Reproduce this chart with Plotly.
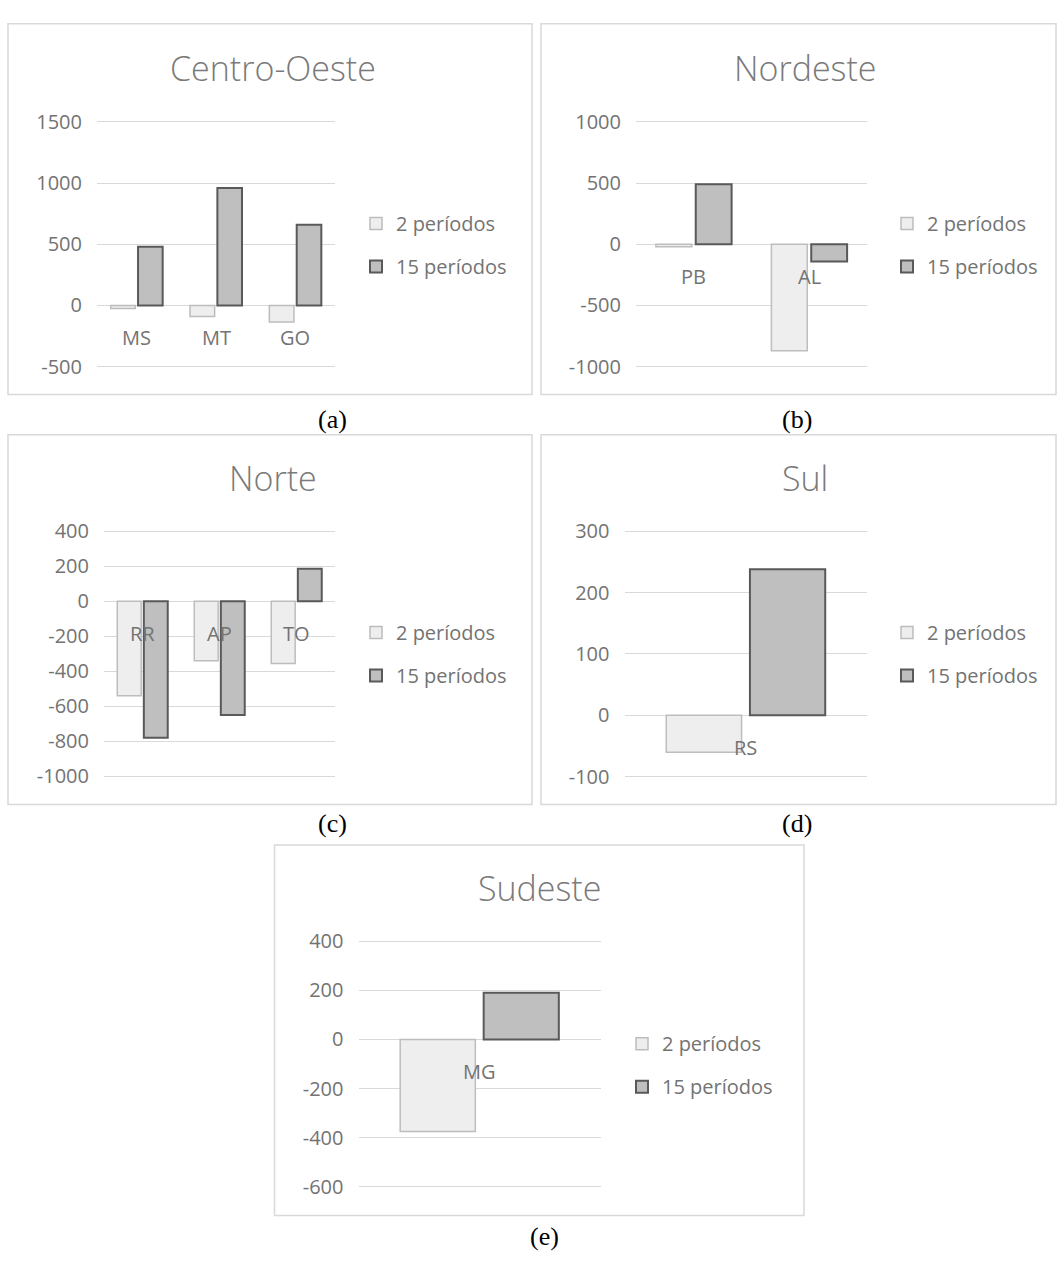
import plotly.graph_objects as go

# ---- data -------------------------------------------------------------
series_names = ["2 períodos", "15 períodos"]

cats_co = ["MS", "MT", "GO"]
p2_co = [-25, -90, -135]
p15_co = [480, 960, 660]

cats_ne = ["PB", "AL"]
p2_ne = [-20, -870]
p15_ne = [490, -140]

cats_n = ["RR", "AP", "TO"]
p2_n = [-540, -340, -355]
p15_n = [-780, -650, 185]

cats_s = ["RS"]
p2_s = [-60]
p15_s = [238]

cats_se = ["MG"]
p2_se = [-375]
p15_se = [190]

titles = ["Centro-Oeste", "Nordeste", "Norte", "Sul", "Sudeste"]
captions = ["(a)", "(b)", "(c)", "(d)", "(e)"]

ticks_co = [-500, 0, 500, 1000, 1500]
ticks_ne = [-1000, -500, 0, 500, 1000]
ticks_n = [-1000, -800, -600, -400, -200, 0, 200, 400]
ticks_s = [-100, 0, 100, 200, 300]
ticks_se = [-600, -400, -200, 0, 200, 400]

data = [
    (cats_co, p2_co, p15_co, ticks_co),
    (cats_ne, p2_ne, p15_ne, ticks_ne),
    (cats_n, p2_n, p15_n, ticks_n),
    (cats_s, p2_s, p15_s, ticks_s),
    (cats_se, p2_se, p15_se, ticks_se),
]

# ---- page geometry (pixels) -------------------------------------------
W, H = 1059, 1261


def fx(px):
    return px / W


def fy(py):
    return 1 - py / H


# plot box: x0, x1, y of top gridline, y of bottom gridline
plot_boxes = [
    (97, 335, 112.7, 361.7),
    (636, 867, 112.7, 361.7),
    (104, 335, 529, 778.3),
    (624.5, 867, 529, 778.7),
    (358.5, 600.5, 946, 1195.7),
]
# chart frames: x0, x1, y0, y1
frames = [
    (8, 532, 13, 390),
    (541, 1056, 13, 390),
    (8, 532, 431, 807),
    (541, 1056, 431, 807),
    (274.5, 804, 848, 1225),
]
title_pos = [(273, 58), (805, 58), (273, 475), (805, 475), (539, 892)]
legend_pos = [(370, 238), (901, 238), (370, 654), (901, 654), (636, 1072)]
caption_pos = [(332, 415), (797, 415), (332, 826), (797, 826), (544, 1246)]

TEXT = "#737373"
GRID = "#d9d9d9"
FONT = "Open Sans"
PAD = 3  # extra pixels above/below the outer gridlines so they stay visible

fig = go.Figure()

for i, (cats, v2, v15, tvals) in enumerate(data):
    n = i + 1
    suffix = "" if n == 1 else str(n)
    leg = "legend" if n == 1 else f"legend{n}"
    fig.add_trace(go.Bar(
        x=cats, y=v2, name=series_names[0],
        xaxis=f"x{suffix}", yaxis=f"y{suffix}", legend=leg,
        legendgroup=f"a{n}",
        marker=dict(color="#eeeeee", line=dict(color="#bdbdbd", width=1.5)),
    ))
    fig.add_trace(go.Bar(
        x=cats, y=v15, name=series_names[1],
        xaxis=f"x{suffix}", yaxis=f"y{suffix}", legend=leg,
        legendgroup=f"b{n}",
        marker=dict(color="#bfbfbf", line=dict(color="#595959", width=2)),
    ))

    x0, x1, yt, yb = plot_boxes[i]
    lo, hi = min(tvals), max(tvals)
    per_px = (hi - lo) / (yb - yt)
    fig.layout[f"xaxis{suffix}"] = dict(
        domain=[fx(x0), fx(x1)], anchor=f"y{suffix}", type="category",
        showticklabels=False, showgrid=False, zeroline=False,
        showline=False, fixedrange=True,
    )
    fig.layout[f"yaxis{suffix}"] = dict(
        domain=[fy(yb + PAD), fy(yt - PAD)], anchor=f"x{suffix}",
        range=[lo - PAD * per_px, hi + PAD * per_px],
        tickmode="array", tickvals=tvals, ticktext=[str(v) for v in tvals],
        showgrid=True, gridcolor=GRID, gridwidth=1.3,
        zeroline=True, zerolinecolor=GRID, zerolinewidth=1.3,
        showline=False, ticks="", ticklabelstandoff=14,
        tickfont=dict(family=FONT, size=20, color=TEXT),
        fixedrange=True,
    )

    lx, ly = legend_pos[i]
    fig.layout[leg] = dict(
        x=fx(lx - 14), y=fy(ly), xanchor="left", yanchor="middle",
        bgcolor="rgba(0,0,0,0)", tracegroupgap=14,
        font=dict(family=FONT, size=20, color=TEXT),
        traceorder="grouped",
    )

    # category labels sit just below the zero line
    for c in cats:
        fig.add_annotation(
            x=c, y=0, xref=f"x{suffix}", yref=f"y{suffix}",
            text=c, showarrow=False, yshift=-32, yanchor="middle",
            font=dict(family=FONT, size=20, color=TEXT),
        )

    tx, ty = title_pos[i]
    fig.add_annotation(
        x=fx(tx), y=fy(ty), xref="paper", yref="paper",
        text=titles[i], showarrow=False, xanchor="center", yanchor="middle",
        font=dict(family=FONT, size=34, color="#7a7a7a", weight=300),
    )

    cx, cy = caption_pos[i]
    fig.add_annotation(
        x=fx(cx), y=fy(cy), xref="paper", yref="paper",
        text=captions[i], showarrow=False, xanchor="center", yanchor="middle",
        font=dict(family="Liberation Serif", size=26, color="#000000"),
    )

    fx0, fx1, fy0, fy1 = frames[i]
    fig.add_shape(
        type="rect", xref="paper", yref="paper",
        x0=fx(fx0), x1=fx(fx1), y0=fy(fy1), y1=fy(fy0),
        line=dict(color=GRID, width=1.5), layer="below",
    )

fig.update_layout(
    width=W, height=H,
    margin=dict(l=0, r=0, t=0, b=0),
    paper_bgcolor="white", plot_bgcolor="white",
    barmode="group", bargap=0.31, bargroupgap=0.1,
    showlegend=True,
)

fig.write_html("out.html", config={"displayModeBar": False})
